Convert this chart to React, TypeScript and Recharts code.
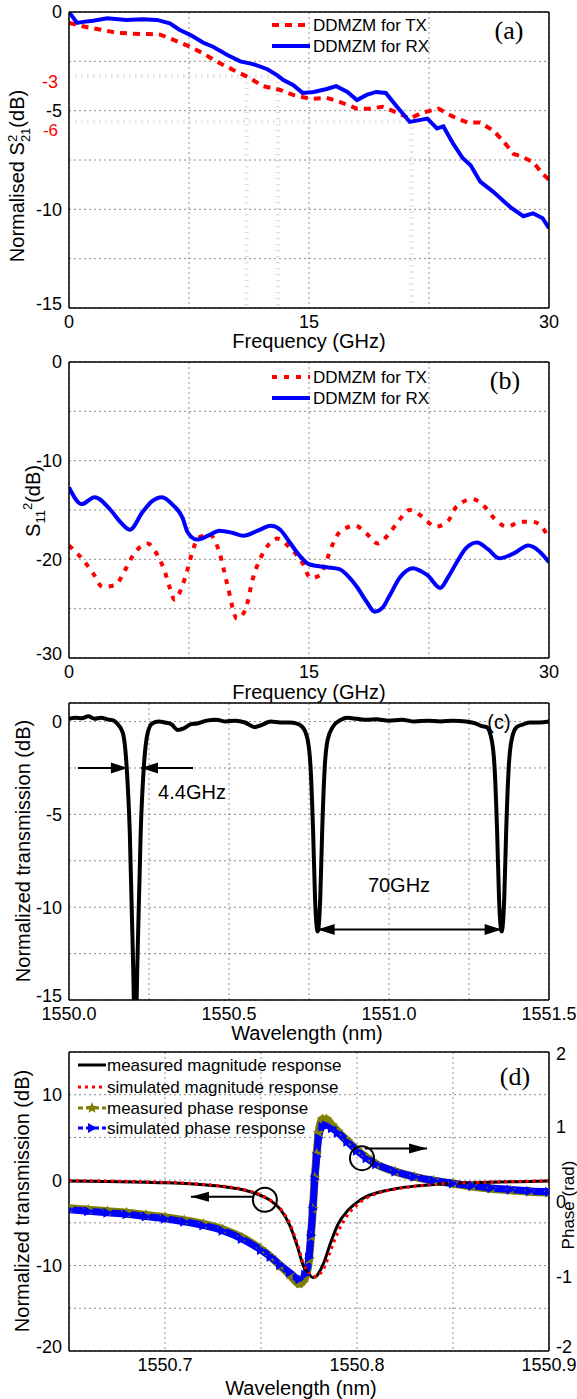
import React from "react";
import { CartesianGrid, Line, LineChart, ReferenceDot, ReferenceLine, XAxis, YAxis } from "recharts";

const FONT = '"Liberation Sans", Arial, Helvetica, sans-serif';
const SERIF = '"Liberation Serif", "Times New Roman", serif';
const RED = "#ff0000";
const BLUE = "#0000ff";
const OLIVE = "#808000";
const GRID = "#8c8c8c";

// (a) normalised S21, GHz / dB
const aFreqTx = [0, 1, 2, 3, 4, 5, 5.7, 6.5, 7.4, 8.4, 9.2, 10.3, 11.2, 12.1, 13.2, 14, 15.1, 16.1, 16.9, 18, 18.8, 19.6, 20.5, 21.3, 22.1, 23.1, 24, 24.9, 25.7, 26.5, 27.1, 27.8, 28.2, 29, 29.6, 30];
const aTx = [-0.55, -0.75, -0.9, -1.05, -1.1, -1.12, -1.15, -1.4, -1.7, -2.1, -2.5, -2.95, -3.3, -3.75, -3.95, -4.2, -4.4, -4.35, -4.55, -4.9, -4.9, -4.8, -5.1, -5.4, -5.1, -4.9, -5.3, -5.6, -5.6, -6.0, -6.5, -7.2, -7.3, -7.6, -8.2, -8.5];
const aFreqRx = [0, 0.5, 0.9, 1.5, 2.4, 3.6, 4.6, 5.5, 6.3, 6.9, 7.6, 8.4, 9, 9.9, 10.7, 11.5, 12.4, 13, 13.4, 14, 14.6, 15.3, 16.1, 16.7, 17.4, 18, 18.6, 19.2, 19.8, 20.5, 21.3, 22.4, 23, 23.4, 24, 24.6, 25.1, 25.7, 26.5, 27.6, 28.4, 29, 29.6, 30];
const aRx = [0, -0.55, -0.5, -0.44, -0.32, -0.4, -0.37, -0.4, -0.57, -0.9, -1.17, -1.56, -1.76, -2.18, -2.5, -2.64, -2.9, -3.2, -3.45, -3.7, -4.1, -4.05, -3.9, -3.76, -4.05, -4.46, -4.2, -4.05, -4.1, -4.8, -5.57, -5.4, -5.9, -5.8, -6.66, -7.4, -7.77, -8.6, -9.1, -9.9, -10.35, -10.2, -10.45, -10.96];

// (b) S11, GHz / dB
const bFreqTx = [0, 0.9, 1.5, 2.1, 2.9, 3.5, 4, 4.9, 5.6, 6, 6.3, 6.6, 7.1, 7.4, 7.7, 8.1, 8.8, 9.4, 9.9, 10.5, 11, 11.5, 12.3, 13, 13.8, 14.6, 15.1, 15.7, 16.1, 16.5, 17, 17.9, 18.6, 19.3, 20, 20.6, 21.3, 22.1, 22.9, 23.7, 24.2, 25.2, 26, 26.6, 27.4, 28.2, 29, 29.6, 30];
const bTx = [-18.6, -20.1, -21.4, -22.8, -22.6, -21.1, -19.6, -18.4, -19.8, -21.3, -22.9, -24.1, -22.6, -21.1, -19.3, -17.8, -17.5, -19.3, -22.6, -26, -25.2, -21.9, -18.9, -17.9, -18.8, -20.4, -21.9, -21.6, -20.1, -18.4, -17.1, -16.6, -17.4, -18.4, -17.4, -16.1, -15, -15.7, -16.7, -16.1, -14.7, -13.9, -14.7, -15.9, -16.7, -16.2, -16.2, -16.8, -18];
const bFreqRx = [0, 0.8, 1.6, 2.6, 3.2, 3.8, 4.6, 5.2, 5.8, 6.5, 7.1, 7.4, 8, 8.7, 9.4, 10.2, 10.9, 11.8, 12.6, 13.2, 13.8, 14.4, 15, 16.1, 16.9, 17.5, 18, 18.6, 19.1, 19.6, 20, 20.7, 21.5, 22, 22.4, 23.2, 23.7, 24.2, 24.8, 25.5, 26.2, 26.9, 27.8, 28.7, 29.4, 30];
const bRx = [-12.7, -14.4, -13.7, -15, -16.2, -17, -15.2, -14.1, -13.7, -14.5, -15.8, -17.2, -18, -17.6, -17.1, -17.3, -17.6, -17.1, -16.6, -17, -18.3, -19.6, -20.5, -20.8, -21, -21.8, -22.8, -24.3, -25.3, -24.9, -23.8, -21.8, -20.9, -21.2, -21.6, -22.9, -21.8, -20.4, -18.9, -18.3, -19, -19.9, -19.4, -18.6, -19.2, -20.3];

// (c) transmission, nm / dB
const cWl = [1550.0, 1550.02, 1550.04, 1550.06, 1550.08, 1550.1, 1550.12, 1550.14, 1550.15, 1550.168, 1550.18, 1550.19, 1550.198, 1550.203, 1550.207, 1550.211, 1550.216, 1550.224, 1550.234, 1550.246, 1550.26, 1550.28, 1550.3, 1550.32, 1550.34, 1550.36, 1550.38, 1550.4, 1550.43, 1550.46, 1550.49, 1550.52, 1550.55, 1550.58, 1550.6, 1550.63, 1550.66, 1550.69, 1550.71, 1550.73, 1550.746, 1550.755, 1550.763, 1550.769, 1550.777, 1550.785, 1550.791, 1550.799, 1550.808, 1550.824, 1550.85, 1550.87, 1550.9, 1550.93, 1550.96, 1551.0, 1551.04, 1551.08, 1551.12, 1551.16, 1551.2, 1551.24, 1551.27, 1551.29, 1551.305, 1551.321, 1551.33, 1551.338, 1551.344, 1551.352, 1551.36, 1551.366, 1551.374, 1551.383, 1551.399, 1551.42, 1551.44, 1551.47, 1551.5];
const cDb = [0.15, 0.2, 0.18, 0.28, 0.15, 0.2, 0.12, 0.05, -0.1, -0.6, -2.4, -6.0, -11.4, -15.5, -22, -15.5, -11.4, -6.0, -2.4, -0.6, -0.1, 0.0, -0.05, -0.15, -0.45, -0.35, -0.15, -0.1, 0.05, 0.1, 0.0, 0.05, -0.05, -0.3, -0.2, 0.0, -0.05, -0.05, -0.1, -0.3, -1.0, -2.5, -6.0, -9.6, -11.3, -9.6, -6.0, -2.5, -1.0, -0.3, 0.1, 0.2, 0.15, 0.1, 0.12, 0.05, 0.1, 0.0, 0.05, 0.0, 0.05, 0.0, -0.1, -0.25, -0.3, -1.0, -2.5, -6.0, -9.6, -11.3, -9.6, -6.0, -2.5, -1.0, -0.3, -0.15, -0.05, -0.05, 0.0];

// (d) magnitude (dB) and phase (rad) around one resonance
const dMagWl = [1550.65, 1550.67, 1550.69, 1550.7, 1550.71, 1550.72, 1550.73, 1550.74, 1550.75, 1550.755, 1550.76, 1550.765, 1550.769, 1550.772, 1550.775, 1550.777, 1550.779, 1550.781, 1550.783, 1550.786, 1550.79, 1550.795, 1550.8, 1550.805, 1550.81, 1550.82, 1550.83, 1550.84, 1550.85, 1550.86, 1550.87, 1550.88, 1550.89, 1550.9];
const dMagMeasured = [-0.1, -0.15, -0.25, -0.3, -0.4, -0.55, -0.75, -1.1, -1.8, -2.4, -3.4, -5.3, -7.8, -10.0, -11.0, -11.4, -11.2, -10.5, -9.5, -7.5, -5.2, -3.6, -2.6, -1.9, -1.5, -1.0, -0.7, -0.5, -0.35, -0.3, -0.25, -0.2, -0.15, -0.1];
const dMagSimulated = [-0.05, -0.1, -0.2, -0.25, -0.35, -0.5, -0.7, -1.05, -1.75, -2.35, -3.3, -5.1, -7.5, -9.7, -10.9, -11.2, -11.3, -10.9, -10.2, -8.4, -6.1, -4.1, -2.9, -2.1, -1.6, -1.05, -0.72, -0.5, -0.35, -0.28, -0.22, -0.18, -0.12, -0.08];
const dPhaseWl = [1550.65, 1550.66, 1550.67, 1550.68, 1550.69, 1550.7, 1550.71, 1550.72, 1550.73, 1550.74, 1550.75, 1550.755, 1550.76, 1550.765, 1550.77, 1550.773, 1550.775, 1550.776, 1550.777, 1550.778, 1550.779, 1550.78, 1550.782, 1550.784, 1550.787, 1550.79, 1550.795, 1550.8, 1550.805, 1550.81, 1550.82, 1550.83, 1550.84, 1550.85, 1550.86, 1550.87, 1550.88, 1550.89, 1550.9];
const dPhaseSimulated = [-0.11, -0.13, -0.15, -0.17, -0.2, -0.23, -0.27, -0.32, -0.39, -0.5, -0.65, -0.74, -0.85, -0.95, -1.04, -0.98, -0.75, -0.45, -0.1, 0.3, 0.6, 0.85, 1.0, 1.02, 0.98, 0.92, 0.8, 0.68, 0.58, 0.5, 0.4, 0.33, 0.28, 0.24, 0.21, 0.18, 0.16, 0.14, 0.13];
const dPhaseMeasured = [-0.09, -0.11, -0.13, -0.15, -0.18, -0.21, -0.25, -0.3, -0.37, -0.48, -0.64, -0.74, -0.86, -0.98, -1.1, -1.02, -0.78, -0.47, -0.1, 0.32, 0.64, 0.92, 1.1, 1.1, 1.02, 0.94, 0.81, 0.69, 0.59, 0.5, 0.4, 0.33, 0.28, 0.24, 0.2, 0.17, 0.15, 0.13, 0.12];

const aXTicks = [0, 7.5, 15, 22.5, 30];
const aYTicks = [-15, -12.5, -10, -7.5, -5, -2.5, 0];
const bYTicks = [-30, -25, -20, -15, -10, -5, 0];
const cXTicks = [1550, 1550.25, 1550.5, 1550.75, 1551, 1551.25, 1551.5];
const cYTicks = [-15, -12.5, -10, -7.5, -5, -2.5, 0];
const dXTicks = [1550.65, 1550.7, 1550.75, 1550.8, 1550.85, 1550.9];
const dYTicks = [-20, -15, -10, -5, 0, 5, 10, 15];
const dPhaseTicks = [-2, -1.5, -1, -0.5, 0, 0.5, 1, 1.5, 2];

type Pt = { x: number; y: number };
const pts = (xs: number[], ys: number[]): Pt[] => xs.map((x, i) => ({ x, y: ys[i] }));

const major = (step: number, digits = 0) => (v: number) =>
  Math.abs(v / step - Math.round(v / step)) < 1e-6 ? v.toFixed(digits) : "";

const tickFont = { fill: "#000", fontSize: 18, fontFamily: FONT };
const frame = { stroke: "#000", strokeWidth: 1.5 };
const faint = { stroke: "#d2d2d2", strokeWidth: 4, strokeDasharray: "1 5" };

function arrow(both: boolean, len = 17, half = 5.5) {
  return (p: any) => {
    const { x1, y1, x2, y2 } = p;
    const L = Math.hypot(x2 - x1, y2 - y1) || 1;
    const ux = (x2 - x1) / L;
    const uy = (y2 - y1) / L;
    const head = (tx: number, ty: number, vx: number, vy: number) => {
      const bx = tx - vx * len;
      const by = ty - vy * len;
      return `M${tx},${ty}L${bx - vy * half},${by + vx * half}L${bx + vy * half},${by - vx * half}Z`;
    };
    return (
      <g>
        <line x1={x1} y1={y1} x2={x2} y2={y2} stroke="#000" strokeWidth={2} />
        <path d={head(x2, y2, ux, uy)} fill="#000" />
        {both ? <path d={head(x1, y1, -ux, -uy)} fill="#000" /> : null}
      </g>
    );
  };
}

function starPath(cx: number, cy: number, r: number) {
  let d = "";
  for (let i = 0; i < 10; i++) {
    const rr = i % 2 === 0 ? r : r * 0.45;
    const a = -Math.PI / 2 + (i * Math.PI) / 5;
    d += `${i === 0 ? "M" : "L"}${cx + rr * Math.cos(a)},${cy + rr * Math.sin(a)}`;
  }
  return d + "Z";
}
const triPath = (cx: number, cy: number) => `M${cx - 4},${cy - 5}L${cx + 5},${cy}L${cx - 4},${cy + 5}Z`;

const triDot = (p: any) =>
  p.cx == null ? <g key={`t${p.index}`} /> : <path key={`t${p.index}`} d={triPath(p.cx, p.cy)} fill={BLUE} />;
const starDot = (p: any) =>
  p.cx == null ? <g key={`s${p.index}`} /> : <path key={`s${p.index}`} d={starPath(p.cx, p.cy, 6)} fill={OLIVE} />;

// y tick whose lowest label is nudged up off the x labels
const nudgedTick = (fmt: (v: number) => string, low: number, anchor: "start" | "end") => (p: any) => {
  const v = p.payload.value;
  return (
    <text key={`k${v}`} x={p.x} y={p.y + (v === low ? -4 : 0)} dy="0.355em" textAnchor={anchor} {...tickFont}>
      {fmt(v)}
    </text>
  );
};

function Txt({ x, y, children, size = 20, anchor = "middle", rotate = false, color = "#000", family = FONT }: any) {
  const tx = anchor === "middle" ? "-50%" : anchor === "end" ? "-100%" : "0";
  return (
    <div
      style={{
        position: "absolute",
        left: x,
        top: y,
        transform: `translate(${tx}, -50%)${rotate ? " rotate(-90deg)" : ""}`,
        fontSize: size,
        fontFamily: family,
        color,
        whiteSpace: "nowrap",
        lineHeight: 1,
      }}
    >
      {children}
    </div>
  );
}

function Sample({ x, y, color, dash, width = 4, marker }: any) {
  return (
    <svg style={{ position: "absolute", left: x, top: y - 7 }} width={30} height={14}>
      <line x1={1} y1={7} x2={29} y2={7} stroke={color} strokeWidth={width} strokeDasharray={dash} />
      {marker === "star" ? <path d={starPath(15, 7, 6)} fill={color} /> : null}
      {marker === "tri" ? <path d={triPath(15, 7)} fill={color} /> : null}
    </svg>
  );
}

function DdmzmLegend({ top, dash }: { top: number; dash: string }) {
  return (
    <>
      <svg style={{ position: "absolute", left: 270, top: top - 5 }} width={42} height={30}>
        <line x1={2} y1={5} x2={40} y2={5} stroke={RED} strokeWidth={4} strokeDasharray={dash} />
        <line x1={2} y1={26} x2={40} y2={26} stroke={BLUE} strokeWidth={4} />
      </svg>
      <Txt x={313} y={top} anchor="start" size={17}>DDMZM for TX</Txt>
      <Txt x={313} y={top + 21} anchor="start" size={17}>DDMZM for RX</Txt>
    </>
  );
}

// shared axis frame: left/bottom with labels, top as a plain line
function Frame({ xDomain, xTicks, xFmt, yDomain, yTicks, yFmt, topH, bottomH }: any) {
  return [
    <XAxis key="xb" type="number" dataKey="x" domain={xDomain} ticks={xTicks} tickFormatter={xFmt} height={bottomH}
      tickSize={4} tickMargin={3} tickLine={false} axisLine={frame} tick={tickFont} allowDataOverflow />,
    <XAxis key="xt" xAxisId="top" orientation="top" type="number" dataKey="x" domain={xDomain} height={topH}
      tick={false} tickLine={false} axisLine={frame} allowDataOverflow />,
    <YAxis key="yl" type="number" domain={yDomain} ticks={yTicks} width={69}
      tickSize={3} tickMargin={4} tickLine={false} axisLine={frame} tick={nudgedTick(yFmt, yDomain[0], "end")} allowDataOverflow />,
  ];
}

export default function App() {
  return (
    <div style={{ position: "absolute", left: 0, top: 0, width: 577, height: 1399, background: "#fff", overflow: "hidden", fontFamily: FONT }}>
      {/* (a) */}
      <div style={{ position: "absolute", left: 0, top: 0 }}>
        <LineChart width={577} height={350} margin={{ top: 0, right: 0, bottom: 0, left: 0 }}>
          <CartesianGrid stroke={GRID} strokeDasharray="2 3" />
          {Frame({ xDomain: [0, 30], xTicks: aXTicks, xFmt: major(15), yDomain: [-15, 0], yTicks: aYTicks, yFmt: major(5), topH: 12, bottomH: 42 })}
          <YAxis yAxisId="right" orientation="right" type="number" domain={[-15, 0]} width={28} tick={false} tickLine={false} axisLine={frame} />
          <ReferenceLine segment={[{ x: 0.4, y: -3.25 }, { x: 13.05, y: -3.25 }]} {...faint} />
          <ReferenceLine segment={[{ x: 0.4, y: -5.55 }, { x: 21.4, y: -5.55 }]} {...faint} />
          <ReferenceLine segment={[{ x: 11.1, y: -3.25 }, { x: 11.1, y: -15 }]} {...faint} />
          <ReferenceLine segment={[{ x: 13.05, y: -3.25 }, { x: 13.05, y: -15 }]} {...faint} />
          <ReferenceLine segment={[{ x: 21.4, y: -5.55 }, { x: 21.4, y: -15 }]} {...faint} />
          <Line data={pts(aFreqTx, aTx)} dataKey="y" stroke={RED} strokeWidth={4} strokeDasharray="7 6" dot={false} isAnimationActive={false} />
          <Line data={pts(aFreqRx, aRx)} dataKey="y" stroke={BLUE} strokeWidth={4} dot={false} isAnimationActive={false} />
        </LineChart>
      </div>
      <Txt x={19} y={176} rotate size={20}>
        Normalised S
        <span style={{ display: "inline-flex", flexDirection: "column", fontSize: 13, lineHeight: 1, verticalAlign: "middle" }}>
          <span>2</span>
          <span>21</span>
        </span>
        (dB)
      </Txt>
      <Txt x={58} y={82} anchor="end" size={18} color={RED}>-3</Txt>
      <Txt x={58} y={130} anchor="end" size={17} color={RED}>-6</Txt>
      <Txt x={309} y={341}>Frequency (GHz)</Txt>
      <DdmzmLegend top={25} dash="7 6" />
      <Txt x={509} y={31} size={26} family={SERIF}>(a)</Txt>

      {/* (b) */}
      <div style={{ position: "absolute", left: 0, top: 350 }}>
        <LineChart width={577} height={350} margin={{ top: 0, right: 0, bottom: 0, left: 0 }}>
          <CartesianGrid stroke={GRID} strokeDasharray="2 3" />
          {Frame({ xDomain: [0, 30], xTicks: aXTicks, xFmt: major(15), yDomain: [-30, 0], yTicks: bYTicks, yFmt: major(10), topH: 12, bottomH: 42 })}
          <YAxis yAxisId="right" orientation="right" type="number" domain={[-30, 0]} width={28} tick={false} tickLine={false} axisLine={frame} />
          <Line data={pts(bFreqTx, bTx)} dataKey="y" type="monotone" stroke={RED} strokeWidth={4} strokeDasharray="5 7" dot={false} isAnimationActive={false} />
          <Line data={pts(bFreqRx, bRx)} dataKey="y" type="monotone" stroke={BLUE} strokeWidth={4} dot={false} isAnimationActive={false} />
        </LineChart>
      </div>
      <Txt x={33} y={501} rotate size={20}>
        S<span style={{ fontSize: 13, position: "relative", top: 5 }}>11</span>
        <span style={{ fontSize: 13, position: "relative", top: -8 }}>2</span>(dB)
      </Txt>
      <Txt x={309} y={692}>Frequency (GHz)</Txt>
      <DdmzmLegend top={377} dash="5 7" />
      <Txt x={505} y={381} size={26} family={SERIF}>(b)</Txt>

      {/* (c) */}
      <div style={{ position: "absolute", left: 0, top: 700 }}>
        <LineChart width={577} height={345} margin={{ top: 0, right: 0, bottom: 0, left: 0 }}>
          <CartesianGrid stroke={GRID} strokeDasharray="2 3" />
          {Frame({ xDomain: [1550, 1551.5], xTicks: cXTicks, xFmt: major(0.5, 1), yDomain: [-15, 1], yTicks: cYTicks, yFmt: major(5), topH: 3, bottomH: 45 })}
          <YAxis yAxisId="right" orientation="right" type="number" domain={[-15, 1]} width={28} tick={false} tickLine={false} axisLine={frame} />
          <Line data={pts(cWl, cDb)} dataKey="y" type="monotone" stroke="#000" strokeWidth={4} dot={false} isAnimationActive={false} />
          <ReferenceLine segment={[{ x: 1550.028, y: -2.5 }, { x: 1550.184, y: -2.5 }]} shape={arrow(false)} />
          <ReferenceLine segment={[{ x: 1550.3875, y: -2.5 }, { x: 1550.225, y: -2.5 }]} shape={arrow(false)} />
          <ReferenceLine segment={[{ x: 1550.777, y: -11.2 }, { x: 1551.352, y: -11.2 }]} shape={arrow(true)} />
        </LineChart>
      </div>
      <Txt x={23} y={851} rotate>Normalized transmission (dB)</Txt>
      <Txt x={307} y={1033}>Wavelength (nm)</Txt>
      <Txt x={192} y={792} size={20}>4.4GHz</Txt>
      <Txt x={399} y={885} size={20}>70GHz</Txt>
      <Txt x={499} y={722} size={20}>(c)</Txt>

      {/* (d) */}
      <div style={{ position: "absolute", left: 0, top: 1045 }}>
        <LineChart width={577} height={354} margin={{ top: 0, right: 0, bottom: 0, left: 0 }}>
          <CartesianGrid stroke={GRID} strokeDasharray="2 3" />
          {Frame({ xDomain: [1550.65, 1550.9], xTicks: dXTicks, xFmt: major(0.1, 1), yDomain: [-20, 15], yTicks: dYTicks, yFmt: major(10), topH: 7, bottomH: 48 })}
          <YAxis yAxisId="phase" orientation="right" type="number" domain={[-2, 2]} ticks={dPhaseTicks} width={28}
            tickSize={3} tickMargin={4} tickLine={false} axisLine={frame} tick={nudgedTick(major(1), -2, "start")} allowDataOverflow />
          <Line yAxisId="phase" data={pts(dPhaseWl, dPhaseMeasured)} dataKey="y" type="monotone" stroke={OLIVE} strokeWidth={8} dot={starDot} isAnimationActive={false} />
          <Line yAxisId="phase" data={pts(dPhaseWl, dPhaseSimulated)} dataKey="y" type="monotone" stroke={BLUE} strokeWidth={7} dot={triDot} isAnimationActive={false} />
          <Line data={pts(dMagWl, dMagMeasured)} dataKey="y" type="monotone" stroke="#000" strokeWidth={3} dot={false} isAnimationActive={false} />
          <Line data={pts(dMagWl, dMagSimulated)} dataKey="y" type="monotone" stroke={RED} strokeWidth={3} strokeDasharray="3 4" dot={false} isAnimationActive={false} />
          <ReferenceDot x={1550.752} y={-2.3} r={12} fill="none" stroke="#000" strokeWidth={2} />
          <ReferenceLine segment={[{ x: 1550.7458, y: -1.95 }, { x: 1550.7135, y: -1.95 }]} shape={arrow(false, 18, 5)} />
          <ReferenceDot yAxisId="phase" x={1550.8026} y={0.58} r={12} fill="none" stroke="#000" strokeWidth={2} />
          <ReferenceLine yAxisId="phase" segment={[{ x: 1550.804, y: 0.71 }, { x: 1550.8365, y: 0.71 }]} shape={arrow(false, 18, 5)} />
        </LineChart>
      </div>
      <Txt x={22} y={1201} rotate>Normalized transmission (dB)</Txt>
      <Txt x={568} y={1205} rotate size={17}>Phase (rad)</Txt>
      <Txt x={301} y={1388}>Wavelength (nm)</Txt>
      <Sample x={77} y={1065} color="#000" width={3} />
      <Sample x={77} y={1087} color={RED} width={3} dash="3 4" />
      <Sample x={77} y={1108} color={OLIVE} width={3} dash="5 3" marker="star" />
      <Sample x={77} y={1128} color={BLUE} width={3} dash="5 3" marker="tri" />
      <Txt x={107} y={1065} anchor="start" size={17}>measured magnitude response</Txt>
      <Txt x={107} y={1087} anchor="start" size={17}>simulated magnitude response</Txt>
      <Txt x={107} y={1108} anchor="start" size={17}>measured phase response</Txt>
      <Txt x={107} y={1128} anchor="start" size={17}>simulated phase response</Txt>
      <Txt x={515} y={1077} size={26} family={SERIF}>(d)</Txt>
    </div>
  );
}
